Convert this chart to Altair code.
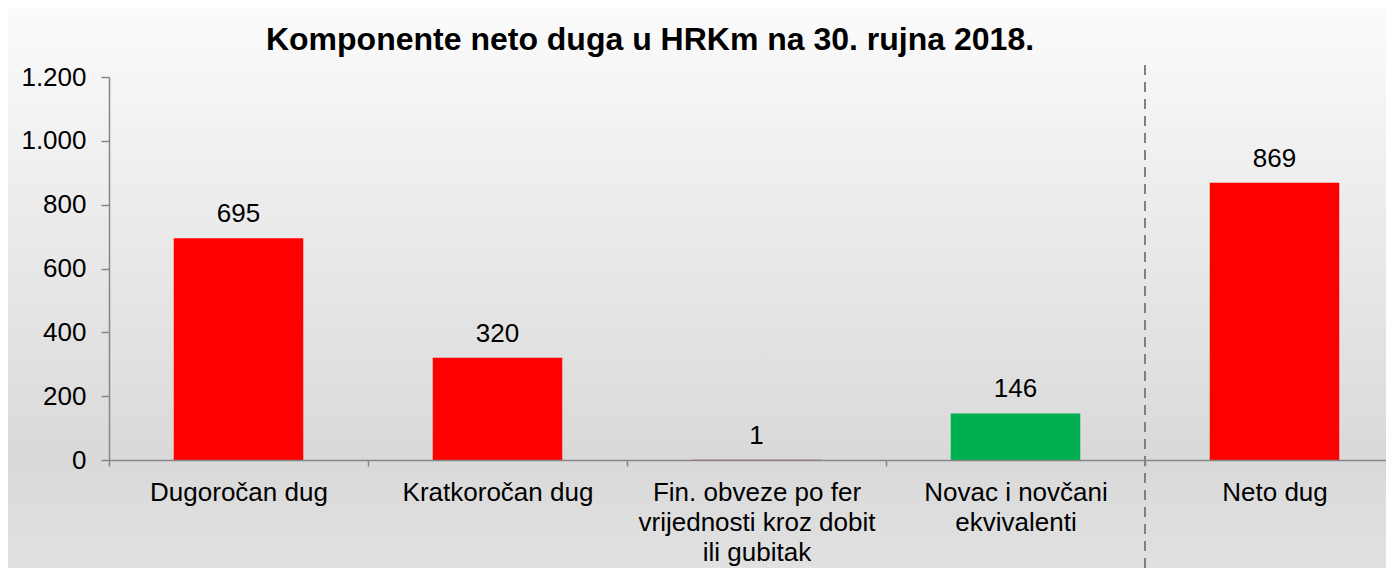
import altair as alt
import pandas as pd

# ---- data ----
categories = [
    "Dugoročan dug",
    "Kratkoročan dug",
    "Fin. obveze po fer|vrijednosti kroz dobit|ili gubitak",
    "Novac i novčani|ekvivalenti",
    "Neto dug",
]
values = [695, 320, 1, 146, 869]
value_labels = ["695", "320", "1", "146", "869"]
bar_colors = ["#FF0000", "#FF0000", "#FF0000", "#00B050", "#FF0000"]
y_ticks = [0, 200, 400, 600, 800, 1000, 1200]
separator_before = ["Neto dug"]
title_text = "Komponente neto duga u HRKm na 30. rujna 2018."

W = 1277
H = 383
FONT = "Liberation Sans"
AXIS_GRAY = "#868686"

df = pd.DataFrame({"cat": categories, "val": values, "color": bar_colors, "lbl": value_labels})

x_scale = alt.Scale(domain=categories, range=[0, 1295], paddingInner=0, paddingOuter=0)
y_scale = alt.Scale(domain=[0, 1200], nice=False, zero=True)

x_axis = alt.Axis(
    title=None, labelExpr="split(datum.label, '|')", labelFontSize=26, labelFont=FONT,
    labelColor="#000000", labelLineHeight=30, labelPadding=13, labelLimit=400, labelAngle=0,
    labelOverlap=False, tickBand="extent", tickSize=6, tickColor=AXIS_GRAY, tickWidth=1.5,
    domainColor=AXIS_GRAY, domainWidth=1.5, grid=False, zindex=1,
)
y_axis = alt.Axis(
    title=None, values=y_ticks, labelExpr="replace(format(datum.value, ','), ',', '.')",
    labelFontSize=26, labelFont=FONT, labelColor="#000000", labelPadding=15, tickSize=8,
    tickColor=AXIS_GRAY, tickWidth=1.5, domainColor=AXIS_GRAY, domainWidth=1.5,
    grid=False, zindex=1,
)

gradient = alt.LinearGradient(
    gradient="linear",
    stops=[
        alt.GradientStop(color="#fbfbfb", offset=0),
        alt.GradientStop(color="#d9d9d9", offset=0.80),
        alt.GradientStop(color="#e1e1e1", offset=1),
    ],
    x1=0, x2=0, y1=0, y2=1,
)

bg = alt.Chart(pd.DataFrame({"a": [0]})).mark_rect(color=gradient).encode(
    x=alt.value(-101), x2=alt.value(W + 40), y=alt.value(-69), y2=alt.value(H + 110)
)

bars = alt.Chart(df).mark_bar(width=alt.RelativeBandSize(0.5)).encode(
    x=alt.X("cat:N", scale=x_scale, sort=categories, axis=x_axis),
    y=alt.Y("val:Q", scale=y_scale, axis=y_axis),
    color=alt.Color("color:N", scale=None),
)

texts = alt.Chart(df).mark_text(
    baseline="alphabetic", dy=-16, fontSize=26, font=FONT, color="#000000"
).encode(
    x=alt.X("cat:N", sort=categories),
    y="val:Q",
    text="lbl:N",
)

sep = alt.Chart(pd.DataFrame({"cat": separator_before})).mark_rule(
    color="#808080", strokeWidth=2, strokeDash=[10, 7]
).encode(
    x=alt.X("cat:N", bandPosition=0, sort=categories),
    y=alt.value(-12),
    y2=alt.value(H + 110),
)

title = alt.Chart(pd.DataFrame({"t": [title_text]})).mark_text(
    fontSize=32, fontWeight="bold", font=FONT, align="center", baseline="alphabetic", color="#000000"
).encode(x=alt.value(541), y=alt.value(-27), text="t:N")

chart = alt.layer(bg, bars, texts, sep, title).properties(
    width=W, height=H,
    autosize=alt.AutoSizeParams(type="none"),
    padding={"left": 101, "top": 69, "right": 0, "bottom": 108},
).configure_view(stroke=None).configure(background="white")

chart.save("out.html", embed_options={"renderer": "svg", "actions": False})
